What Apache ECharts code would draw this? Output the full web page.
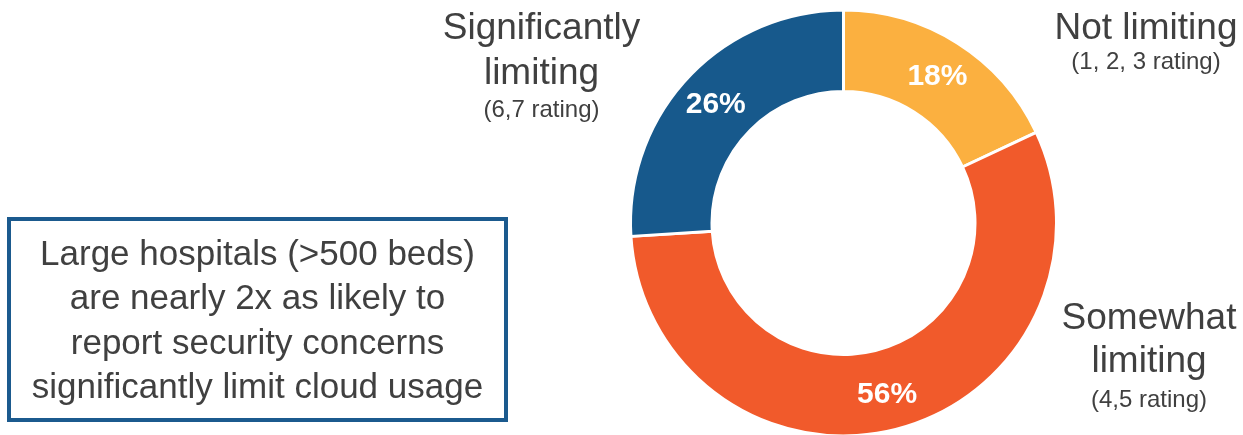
<!DOCTYPE html>
<html>
<head>
<meta charset="utf-8">
<script src="https://cdn.jsdelivr.net/npm/echarts@6/dist/echarts.min.js"></script>
<style>
html,body{margin:0;padding:0;background:#fff;}
#c{width:1243px;height:435px;}
</style>
</head>
<body>
<div id="c"></div>
<script>
var categories = ['Not limiting', 'Somewhat limiting', 'Significantly limiting'];
var ratings = ['(1, 2, 3 rating)', '(4,5 rating)', '(6,7 rating)'];
var values = [18, 56, 26];
var colors = ['#FBB040', '#F15A2B', '#17598C'];
var noteLines = [
  'Large hospitals (>500 beds)',
  'are nearly 2x as likely to',
  'report security concerns',
  'significantly limit cloud usage'
];

var FONT = '"Liberation Sans", Arial, sans-serif';
var GREY = '#404040';

var chart = echarts.init(document.getElementById('c'), null, {renderer: 'canvas'});

function txt(str, x, y, size) {
  return {
    type: 'text', x: x, y: y, silent: true,
    style: {text: str, fill: GREY, font: size + 'px ' + FONT, align: 'center', verticalAlign: 'middle'}
  };
}

// label layout (positions only)
var labelPos = [
  {x: 1146, main: [29], sub: 62},
  {x: 1149, main: [319, 362], sub: 400},
  {x: 541.5, main: [29, 74], sub: 110}
];

var graphics = [];
labelPos.forEach(function (p, i) {
  var words = categories[i].split(' ');
  if (p.main.length === 1) {
    graphics.push(txt(categories[i], p.x, p.main[0], 37));
  } else {
    graphics.push(txt(words[0], p.x, p.main[0], 37));
    graphics.push(txt(words.slice(1).join(' '), p.x, p.main[1], 37));
  }
  graphics.push(txt(ratings[i], p.x, p.sub, 24));
});

graphics.push({
  type: 'rect', silent: true,
  shape: {x: 9, y: 219, width: 497, height: 201},
  style: {fill: '#fff', stroke: '#1B5A8E', lineWidth: 4}
});
noteLines.forEach(function (l, i) {
  graphics.push(txt(l, 257.5, 255 + i * 44.5, 35));
});

chart.setOption({
  animation: false,
  backgroundColor: '#fff',
  graphic: graphics,
  series: [{
    type: 'pie',
    center: [843.5, 223],
    radius: [131.5, 213],
    startAngle: 90,
    clockwise: true,
    avoidLabelOverlap: false,
    emphasis: {disabled: true},
    itemStyle: {borderColor: '#fff', borderWidth: 3},
    label: {
      show: true,
      position: 'inside',
      formatter: '{c}%',
      color: '#fff',
      fontWeight: 'bold',
      fontSize: 30,
      fontFamily: FONT,
      offset: [0, 2]
    },
    labelLine: {show: false},
    data: categories.map(function (c, i) {
      return {name: c, value: values[i], itemStyle: {color: colors[i]}};
    })
  }]
});
</script>
</body>
</html>
